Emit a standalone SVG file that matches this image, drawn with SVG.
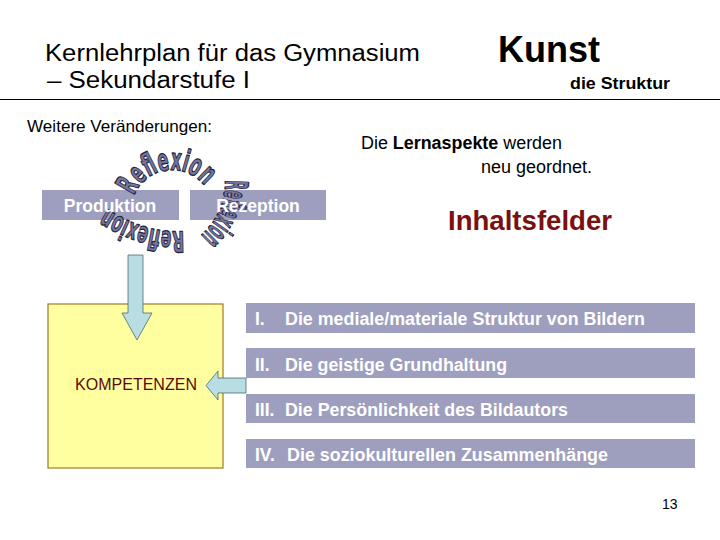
<svg xmlns="http://www.w3.org/2000/svg" width="720" height="540" viewBox="0 0 720 540">
<style>
text{font-family:"Liberation Sans",Arial,sans-serif}
.hdr{font-size:23px;fill:#000}
.box{fill:#9e9ebe}
.bt{font-size:17.5px;font-weight:bold;fill:#fff}
.wa{font-family:"DejaVu Sans","Liberation Sans",sans-serif;font-stretch:condensed;font-weight:bold;fill:#75759e;stroke:#26263e;stroke-width:1.3;stroke-linejoin:round}
.arrow{fill:#b8dde2;stroke:#4d6b70;stroke-width:0.8}
.txt{font-size:18px;fill:#000}
</style>
<defs>
<path id="arcTop" d="M 134 196 A 41 41 0 0 1 209 193"/>
<path id="arcRight" d="M 225 180 Q 226 214 199 237"/>
<path id="arcBottom" d="M 184 231 Q 146 234 107 209"/>
</defs>
<rect width="720" height="540" fill="#fff"/>

<g id="header">
<text class="hdr" x="45" y="61" textLength="375" lengthAdjust="spacingAndGlyphs">Kernlehrplan für das Gymnasium</text>
<text class="hdr" x="47" y="88" textLength="203" lengthAdjust="spacingAndGlyphs">– Sekundarstufe I</text>
<text x="498" y="62" font-size="36" font-weight="bold" textLength="102" lengthAdjust="spacingAndGlyphs">Kunst</text>
<text x="570" y="89" font-size="17" font-weight="bold" textLength="100" lengthAdjust="spacingAndGlyphs">die Struktur</text>
<line x1="0" y1="99.5" x2="720" y2="99.5" stroke="#000" stroke-width="1"/>
</g>

<g id="intro">
<text class="txt" x="27" y="132" textLength="185" lengthAdjust="spacingAndGlyphs" style="font-size:16.5px">Weitere Veränderungen:</text>
<text class="txt" x="361" y="148.5" textLength="201" lengthAdjust="spacingAndGlyphs">Die <tspan font-weight="bold">Lernaspekte</tspan> werden</text>
<text class="txt" x="481" y="173" textLength="111" lengthAdjust="spacingAndGlyphs">neu geordnet.</text>
</g>

<g id="produktion">
<rect class="box" x="42" y="190" width="137" height="30"/>
</g>
<g id="rezeption">
<rect class="box" x="190" y="190" width="136" height="30"/>
</g>

<g id="reflexion">
<text class="wa" font-size="31" textLength="86" lengthAdjust="spacingAndGlyphs"><textPath href="#arcTop">Reflexion</textPath></text>
<text class="wa" font-size="32" textLength="63" lengthAdjust="spacingAndGlyphs"><textPath href="#arcRight">Reflexion</textPath></text>
<text class="wa" font-size="29" textLength="82" lengthAdjust="spacingAndGlyphs"><textPath href="#arcBottom">Reflexion</textPath></text>
</g>

<g id="box-labels">
<text class="bt" x="110" y="212" text-anchor="middle">Produktion</text>
<text class="bt" x="258" y="212" text-anchor="middle">Rezeption</text>
</g>

<g id="inhaltsfelder">
<text x="448" y="230" font-size="28" font-weight="bold" fill="#7b1010" textLength="164" lengthAdjust="spacingAndGlyphs">Inhaltsfelder</text>
</g>

<g id="kompetenzen">
<rect x="48" y="304" width="175" height="164" fill="#ffffa0" stroke="#a0782c" stroke-width="1.2"/>
<text x="75" y="390" font-size="16" fill="#5c0a0a" textLength="122" lengthAdjust="spacingAndGlyphs">KOMPETENZEN</text>
</g>

<g id="feld1">
<rect class="box" x="246" y="303" width="449" height="30"/>
<text class="bt" x="255" y="325">I.</text>
<text class="bt" x="285" y="325" textLength="360" lengthAdjust="spacingAndGlyphs">Die mediale/materiale Struktur von Bildern</text>
</g>
<g id="feld2">
<rect class="box" x="246" y="348" width="449" height="30"/>
<text class="bt" x="255" y="370.5">II.</text>
<text class="bt" x="285" y="370.5" textLength="222" lengthAdjust="spacingAndGlyphs">Die geistige Grundhaltung</text>
</g>
<g id="feld3">
<rect class="box" x="246" y="394" width="449" height="29"/>
<text class="bt" x="255" y="416">III.</text>
<text class="bt" x="285" y="416" textLength="283" lengthAdjust="spacingAndGlyphs">Die Persönlichkeit des Bildautors</text>
</g>
<g id="feld4">
<rect class="box" x="246" y="439" width="449" height="29"/>
<text class="bt" x="255" y="461">IV.</text>
<text class="bt" x="287" y="461" textLength="321" lengthAdjust="spacingAndGlyphs">Die soziokulturellen Zusammenhänge</text>
</g>

<g id="connectors">
<polygon class="arrow" points="128,255 143,255 143,313 152,313 137,340 122,313 128,313"/>
<polygon class="arrow" points="246,378 218,378 218,371 206,385.5 218,400 218,393 246,393"/>
</g>

<g id="page">
<text x="662" y="509" font-size="14" fill="#000">13</text>
</g>
</svg>
